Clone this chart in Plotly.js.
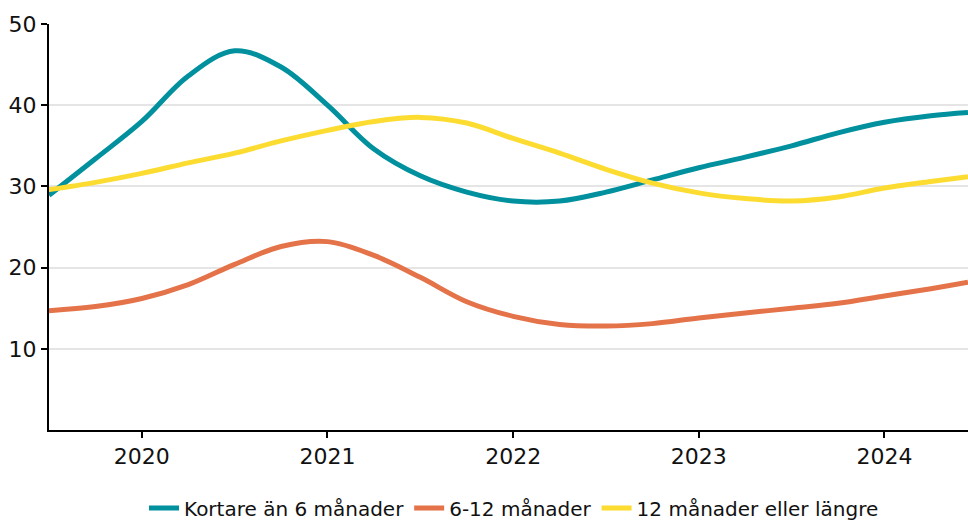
<!DOCTYPE html>
<html><head><meta charset="utf-8">
<script src="https://cdn.plot.ly/plotly-3.0.1.min.js"></script>
<style>html,body{margin:0;padding:0;background:#fff}</style>
</head><body><div id="chart" style="width:968px;height:520px"></div>
<script>
const years = [2019.5,2019.75,2020,2020.25,2020.5,2020.75,2021,2021.25,2021.5,2021.75,2022,2022.25,2022.5,2022.75,2023,2023.25,2023.5,2023.75,2024,2024.25,2024.45];
const kortare = [28.9,33.4,38.0,43.6,46.7,44.7,40.0,34.6,31.3,29.3,28.2,28.2,29.3,30.8,32.3,33.6,35.0,36.6,37.9,38.7,39.1];
const mellan = [14.7,15.2,16.2,17.9,20.4,22.6,23.2,21.5,18.8,15.8,14.0,13.0,12.8,13.1,13.8,14.4,15.0,15.6,16.5,17.4,18.2];
const langre = [29.6,30.5,31.6,32.9,34.1,35.6,36.9,38.0,38.5,37.8,35.9,34.1,32.1,30.4,29.2,28.5,28.2,28.7,29.8,30.6,31.2];
const names = ["Kortare än 6 månader","6-12 månader","12 månader eller längre"];
const colors = ["#00909e","#e4734a","#fddc32"];
const xTicks = [2020,2021,2022,2023,2024];
const yTicks = [10,20,30,40,50];

const series = [kortare, mellan, langre];
const traces = series.map((s,i)=>({
  x: years, y: s, name: names[i], type:'scatter', mode:'lines',
  line:{color:colors[i], width:5, shape:'spline', smoothing:1}
}));
const fam = '"DejaVu Sans", "Noto Sans", sans-serif';
Plotly.newPlot('chart', traces, {
  width:968, height:520,
  margin:{l:49, r:0, t:24, b:90},
  paper_bgcolor:'#fff', plot_bgcolor:'#fff',
  font: {family:fam, color:'#111', size:20},
  showlegend:true,
  legend:{orientation:'h', x:0.531, xanchor:'center', xref:'container', y:0.023, yref:'container', yanchor:'middle', font:{size:20, family:fam, color:'#111'}, traceorder:'normal'},
  xaxis:{range:[2019.5,2024.45], tickvals:xTicks, ticktext:xTicks.map(String), showgrid:false, zeroline:false,
    showline:true, linecolor:'#000', linewidth:2, ticks:'outside', ticklen:6, tickcolor:'#000', tickwidth:2, tickfont:{size:22}},
  yaxis:{range:[0,50], tickvals:yTicks, showgrid:true, gridcolor:'#e5e5e5', gridwidth:2, zeroline:false,
    showline:true, linecolor:'#000', linewidth:2, ticks:'outside', ticklen:6, tickcolor:'#000', tickwidth:2, tickfont:{size:22}}
}, {displayModeBar:false, staticPlot:true});
</script></body></html>
